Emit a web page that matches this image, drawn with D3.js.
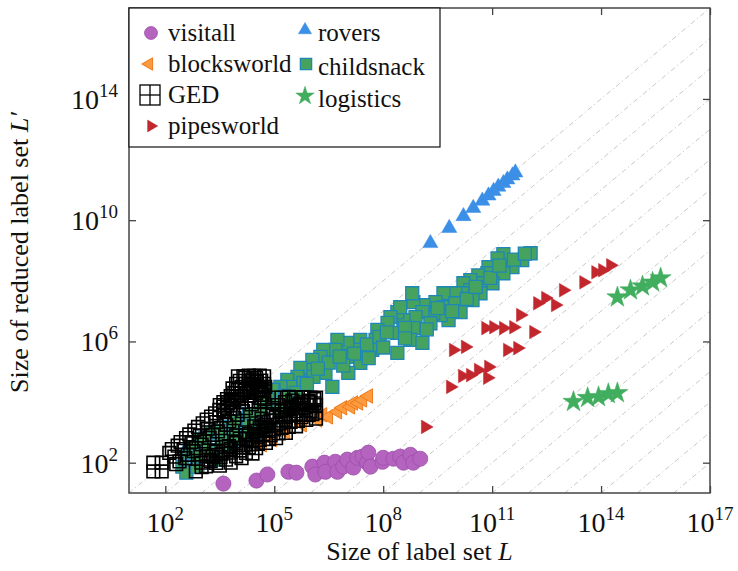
<!DOCTYPE html>
<html>
<head>
<meta charset="utf-8">
<script src="https://cdn.jsdelivr.net/npm/d3@7"></script>
<style>
  body { margin: 0; background: #fff; }
  svg text { font-family: "Liberation Serif", "Times New Roman", serif; fill: #111; }
</style>
</head>
<body>
<svg id="chart" width="738" height="571" font-family="Liberation Serif"></svg>
<script>
// all values are log10 of [size of L, size of L']
var visitall = [[3.60,1.31],[4.51,1.41],[4.81,1.61],[5.39,1.70],[5.61,1.67],[6.05,1.87],[6.13,1.61],[6.38,2.00],
  [6.41,1.70],[6.68,2.03],[6.74,1.70],[6.90,1.87],[7.01,2.10],[7.18,1.84],[7.29,2.16],[7.43,2.20],[7.56,2.00],
  [7.59,2.33],[7.65,1.87],[7.98,2.03],[8.00,2.16],[8.28,2.13],[8.47,2.20],[8.56,2.00],[8.75,2.26],[8.83,2.00],[9.02,2.13]];

var rovers = [[9.30,9.24],[9.82,9.74],[10.21,10.13],[10.48,10.40],[10.73,10.64],[10.90,10.81],[11.04,10.96],
  [11.17,11.10],[11.31,11.22],[11.42,11.34],[11.56,11.47],[11.64,11.57]];

var blocksworld = [[4.67,2.59],[4.95,2.76],[5.31,3.02],[5.77,3.25],[6.19,3.41],[6.33,3.58],[6.49,3.51],[6.74,3.68],
  [6.88,3.81],[7.10,3.84],[7.18,3.97],[7.32,3.97],[7.43,4.07],[7.59,4.20]];

var childsnack = [[12.06,8.91],[11.83,8.68],[11.31,8.88],[11.15,8.74],[11.56,8.45],[11.31,8.25],[10.90,8.45],[10.87,8.25],
  [10.62,8.18],[11.01,7.92],[10.68,7.92],[10.40,8.02],[10.21,7.92],[10.40,7.69],[10.68,7.59],[10.46,7.36],[10.18,7.59],
  [9.99,7.59],[9.66,7.59],[9.44,7.30],[9.66,7.13],[9.99,7.26],[10.13,6.97],[9.80,6.70],[9.58,6.87],[9.38,6.93],
  [9.11,7.20],[8.83,7.30],[8.80,7.59],[9.08,6.97],[8.89,6.80],[8.83,6.44],[8.56,6.70],[8.39,6.97],[8.47,7.13],
  [8.20,6.80],[8.12,6.61],[8.39,6.28],[8.75,6.05],[9.08,5.95],[8.39,5.62],[7.84,6.38],[7.79,6.05],[7.70,5.72],
  [7.37,6.05],[7.32,5.72],[7.37,5.29],[7.01,5.95],[7.01,5.49],[7.04,4.96],[6.74,6.05],[6.68,5.72],[6.35,5.72],
  [6.27,5.49],[6.41,4.96],[6.05,5.39],[5.99,5.06],[6.08,4.83],[6.60,4.50],[5.72,5.13],[5.64,4.83],[5.80,4.63],
  [5.36,4.73],[5.44,4.50],[5.17,4.50],[4.98,4.40],[4.95,4.40],[4.92,3.97],[4.64,3.74],[4.12,3.41],[3.76,3.18],
  [3.27,2.99],[2.94,2.76],[2.66,2.33],[2.47,1.87],[2.58,1.67],[2.88,1.87],[3.40,2.10],[3.76,2.53],[4.12,2.76],
  [4.45,2.99],[4.67,3.18],[5.17,3.74],[5.44,3.91],
  [7.55,5.90],[7.90,6.15],[8.10,6.30],[8.60,6.45],[9.30,6.60],[9.50,7.10],[8.00,5.80],[7.60,5.45],[7.20,5.60],
  [6.90,5.20],[6.50,5.30],[6.20,5.10],[6.80,5.50],[9.90,7.00],[10.30,7.40],[10.55,7.80],[10.95,8.10],[11.20,8.50],
  [11.60,8.70],[11.90,8.90],[9.20,6.40],[8.60,6.10],
  [5.60,4.30],[5.90,4.60],[5.30,4.20],[4.80,4.10],[4.30,3.60],[3.90,3.35],[3.50,3.05],[3.10,2.80],[2.75,2.50],
  [2.90,2.20],[3.20,2.40],[3.55,2.70],[3.90,2.90],[4.30,3.20]];

var ged = [[1.67,2.00],[1.90,2.00],[1.67,1.71],[1.90,1.71],
  [2.11,2.32],[2.34,2.56],[2.57,2.81],[2.80,3.06],[3.03,3.30],[3.26,3.52],[3.49,3.74],[3.72,3.96],[3.95,4.18],
  [4.18,4.38],[4.41,4.57],[4.64,4.71],
  [2.18,2.45],[2.42,2.68],[2.66,2.93],[2.90,3.18],[3.14,3.42],[3.37,3.63],[3.60,3.85],[3.84,4.07],[4.06,4.28],
  [4.30,4.48],[4.52,4.66],
  [2.39,2.04],[2.62,2.26],[2.84,2.48],[3.07,2.70],[3.30,2.92],[3.53,3.14],[3.76,3.36],[3.99,3.58],[4.22,3.80],
  [4.45,4.02],[4.68,4.24],
  [2.30,1.95],[2.55,2.15],[2.78,2.38],[3.00,2.60],[3.22,2.82],[3.45,3.03],[3.68,3.25],[3.90,3.47],[4.14,3.70],
  [4.38,3.92],[4.60,4.14],
  [2.25,2.20],[2.50,2.45],[2.72,2.68],[2.95,2.90],[3.18,3.12],[3.40,3.34],[3.63,3.56],[3.86,3.78],[4.10,4.00],
  [4.32,4.20],[4.55,4.42],[4.75,4.50],
  [4.00,4.85],[4.15,4.85],[4.30,4.87],[4.45,4.86],[4.60,4.87],[4.72,4.85],[4.72,4.60],[4.72,4.35],[4.72,4.10],
  [3.50,3.90],[3.60,4.00],[3.70,4.10],[3.80,4.20],[3.90,4.30],[4.00,4.40],[4.10,4.50],[4.20,4.60],[4.30,4.70],
  [4.40,4.75],[4.50,4.80],[3.60,3.70],[3.70,3.80],[3.80,3.90],[3.90,4.00],[4.00,4.10],[4.10,4.20],[4.20,4.30],
  [4.30,4.40],[4.40,4.50],[4.50,4.55],[4.60,4.40],[3.85,4.45],[3.95,4.60],[4.05,4.70],[4.20,4.80],[4.35,4.60],
  [4.50,4.30],[4.65,4.50],[4.62,4.00],
  [3.12,2.21],[3.40,2.37],[3.67,2.52],[3.95,2.65],[4.22,2.78],[4.50,2.92],[4.77,3.09],[5.05,3.25],[5.32,3.41],
  [5.60,3.58],[5.88,3.74],[6.10,3.96],
  [2.84,1.71],[3.12,1.88],[3.40,1.99],[3.67,2.10],[3.95,2.21],[4.22,2.32],[4.50,2.48],[4.77,2.65],[5.05,2.81],
  [5.32,2.98],[5.60,3.20],[5.88,3.41],
  [3.00,2.00],[3.30,2.20],[3.55,2.30],[3.80,2.45],[4.10,2.50],[4.35,2.60],[4.60,2.75],[4.90,2.90],[5.20,3.15],
  [5.45,3.35],[5.75,3.50],[6.00,3.70],
  [3.25,2.05],[3.52,2.18],[3.80,2.33],[4.05,2.40],[4.30,2.50],[4.55,2.62],[4.85,2.78],[5.12,2.97],[5.40,3.18],
  [5.65,3.38],[5.95,3.58],
  [3.95,2.90],[4.20,3.00],[4.45,3.20],[4.70,3.35],[4.95,3.55],[5.20,3.70],[5.45,3.85],[5.70,3.95],[5.95,4.00],
  [4.30,2.95],[4.45,3.05],[4.60,3.15],[4.75,3.25],[4.90,3.40],[5.05,3.50],[5.20,3.60],[5.35,3.75],[5.50,3.80],
  [5.65,3.90],[5.80,4.00],[5.95,4.05],[6.10,4.10],
  [4.40,2.70],[4.55,2.85],[4.70,2.95],[4.85,3.05],[5.00,3.10],[5.15,3.30],[5.30,3.50],[5.45,3.55],[5.60,3.70],
  [5.75,3.80],[5.90,3.90],[6.05,3.60],[5.50,4.05],[5.30,4.00],[5.10,3.90],[4.95,3.80],[4.80,3.60],[4.65,3.45],
  [4.50,3.30],[3.60,2.40],[3.75,2.55],[3.90,2.70],[4.05,2.80],[4.20,2.90],[3.40,2.25],[3.20,2.10],[3.00,1.85],
  [3.50,1.90],[3.80,2.00],[4.10,2.15],[4.40,2.30],
  [5.00,4.15],[5.20,4.15],[5.40,4.17],[5.60,4.15],[5.80,4.16],[6.00,4.15],[6.15,4.15],[6.15,3.90],[6.15,3.65],[6.15,3.45]];

var logistics = [[14.45,7.46],[14.81,7.69],[15.14,7.82],[15.42,7.95],[15.64,8.09],
  [13.24,4.01],[13.63,4.14],[13.93,4.17],[14.20,4.27],[14.45,4.30]];

var pipesworld = [[9.16,3.18],[9.85,4.50],[10.18,4.86],[10.40,4.89],[10.62,5.06],[10.90,5.16],[10.87,4.80],
  [9.93,5.72],[10.26,5.82],[11.42,5.72],[11.70,5.78],[10.82,6.44],[11.04,6.47],[11.31,6.44],[11.59,6.47],
  [12.14,6.31],[11.78,6.87],[12.25,7.26],[12.47,7.43],[12.74,7.20],[12.96,7.69],[13.52,7.95],[13.85,8.28],
  [14.04,8.35],[14.26,8.51]];

var xTicks = [2, 5, 8, 11, 14, 17];
var yTicks = [2, 6, 10, 14];
var diagOffsets = [0, 1, 2, 3, 4, 5, 6, 7, 8, 9, 10, 11, 12, 13, 14, 15]; // decades below L' = L

var margin = { top: 8, right: 28, bottom: 78, left: 129 },
    width = 738 - margin.left - margin.right,
    height = 571 - margin.top - margin.bottom;

var svg = d3.select("#chart")
  .append("g")
  .attr("transform", "translate(" + margin.left + "," + margin.top + ")");

var x = d3.scaleLog().domain([1e1, 1e17]).range([0, width]);
var y = d3.scaleLog().domain([1e1, 1e17]).range([height, 0]);
var p = function(e) { return Math.pow(10, e); };

svg.append("clipPath").attr("id", "plotclip")
  .append("rect").attr("width", width).attr("height", height);

// reference lines L' = L / 10^k
svg.append("g").attr("clip-path", "url(#plotclip)")
  .selectAll("line")
  .data(diagOffsets)
  .enter()
  .append("line")
  .attr("x1", function(k) { return x(p(1 + k)); })
  .attr("y1", y(p(1)))
  .attr("x2", x(p(17)))
  .attr("y2", function(k) { return y(p(17 - k)); })
  .attr("stroke", "#c8c8c8")
  .attr("stroke-width", 1)
  .attr("stroke-dasharray", "5,3,1.2,3");

var series = [
  { name: "visitall", data: visitall, type: d3.symbolCircle, size: 180, rot: 0, fill: "#b463bf", stroke: "#9c4fa9", sw: 0.8 },
  { name: "rovers", data: rovers, type: d3.symbolTriangle, size: 100, rot: 0, fill: "#3b8fe6", stroke: "#3b8fe6", sw: 0.5 },
  { name: "blocksworld", data: blocksworld, type: d3.symbolTriangle, size: 90, rot: -90, fill: "#fd9b40", stroke: "#f07a1a", sw: 1 },
  { name: "childsnack", data: childsnack, type: d3.symbolSquare, size: 169, rot: 0, fill: "#45a35f", stroke: "#1f86b8", sw: 1.3 },
  { name: "GED", data: ged, type: d3.symbolSquare, size: 160, rot: 0, fill: "none", stroke: "#000", sw: 1.6 },
  { name: "logistics", data: logistics, type: d3.symbolStar, size: 140, rot: 0, fill: "#41ad5e", stroke: "#41ad5e", sw: 0.5 },
  { name: "pipesworld", data: pipesworld, type: d3.symbolTriangle, size: 80, rot: 90, fill: "#c1272d", stroke: "#c1272d", sw: 0.5 }
];

series.forEach(function(s) {
  svg.append("g")
    .selectAll("path")
    .data(s.data)
    .enter()
    .append("path")
    .attr("d", d3.symbol().type(s.type).size(s.size))
    .attr("transform", function(d) {
      return "translate(" + x(p(d[0])) + "," + y(p(d[1])) + ") rotate(" + s.rot + ")";
    })
    .attr("fill", s.fill)
    .attr("stroke", s.stroke)
    .attr("stroke-width", s.sw);
});

// axes: ticks inward on all four sides
var frameColor = "#444";
function styleAxis(g) {
  g.select(".domain").remove();
  g.selectAll(".tick line").attr("stroke", frameColor).attr("stroke-width", 1.3);
}
svg.append("g").attr("transform", "translate(0," + height + ")")
  .call(d3.axisBottom(x).tickValues(xTicks.map(p)).tickSize(-7).tickFormat("")).call(styleAxis);
svg.append("g")
  .call(d3.axisTop(x).tickValues(xTicks.map(p)).tickSize(-7).tickFormat("")).call(styleAxis);
svg.append("g")
  .call(d3.axisLeft(y).tickValues(yTicks.map(p)).tickSize(-7).tickFormat("")).call(styleAxis);
svg.append("g").attr("transform", "translate(" + width + ",0)")
  .call(d3.axisRight(y).tickValues(yTicks.map(p)).tickSize(-7).tickFormat("")).call(styleAxis);

svg.append("rect")
  .attr("width", width).attr("height", height)
  .attr("fill", "none").attr("stroke", frameColor).attr("stroke-width", 1.5);

// tick labels 10^n
var xl = svg.append("g").selectAll("text")
  .data(xTicks).enter().append("text")
  .attr("x", function(d) { return x(p(d)); })
  .attr("y", height + 39)
  .attr("text-anchor", "middle")
  .attr("font-size", 28);
xl.append("tspan").text("10");
xl.append("tspan").attr("dy", -12).attr("font-size", 19).text(function(d) { return d; });

var yl = svg.append("g").selectAll("text")
  .data(yTicks).enter().append("text")
  .attr("x", -11)
  .attr("y", function(d) { return y(p(d)) + 10; })
  .attr("text-anchor", "end")
  .attr("font-size", 28);
yl.append("tspan").text("10");
yl.append("tspan").attr("dy", -12).attr("font-size", 19).text(function(d) { return d; });

// axis titles
var xt = svg.append("text")
  .attr("x", width / 2).attr("y", height + 67)
  .attr("text-anchor", "middle").attr("font-size", 26);
xt.append("tspan").text("Size of label set ");
xt.append("tspan").attr("font-style", "italic").text("L");

var yt = svg.append("text")
  .attr("transform", "translate(-101," + (height / 2 + 2) + ") rotate(-90)")
  .attr("text-anchor", "middle").attr("font-size", 26);
yt.append("tspan").text("Size of reduced label set ");
yt.append("tspan").attr("font-style", "italic").text("L\u2032");

// legend
var legend = svg.append("g");
legend.append("rect")
  .attr("x", 0).attr("y", 0).attr("width", 311).attr("height", 139)
  .attr("fill", "#fff").attr("stroke", "#111").attr("stroke-width", 1.2);

var legendPos = {
  visitall: [22, 25, 0], rovers: [176, 22, 1], blocksworld: [20, 56, 0], childsnack: [177, 56, 1],
  GED: [21, 87, 0], logistics: [176, 88, 1], pipesworld: [22, 118, 0]
};
series.forEach(function(s) {
  var pos = legendPos[s.name];
  if (s.name === "GED") {
    legend.append("rect").attr("x", pos[0] - 10).attr("y", pos[1] - 10).attr("width", 20).attr("height", 20)
      .attr("fill", "none").attr("stroke", "#000").attr("stroke-width", 1.3);
    legend.append("line").attr("x1", pos[0]).attr("x2", pos[0]).attr("y1", pos[1] - 10).attr("y2", pos[1] + 10)
      .attr("stroke", "#000").attr("stroke-width", 1.3);
    legend.append("line").attr("x1", pos[0] - 10).attr("x2", pos[0] + 10).attr("y1", pos[1]).attr("y2", pos[1])
      .attr("stroke", "#000").attr("stroke-width", 1.3);
  } else {
    legend.append("path")
      .attr("d", d3.symbol().type(s.type).size(s.name === "visitall" ? 130 : s.size * 0.75))
      .attr("transform", "translate(" + pos[0] + "," + pos[1] + ") rotate(" + s.rot + ")")
      .attr("fill", s.fill).attr("stroke", s.stroke).attr("stroke-width", s.sw);
  }
  legend.append("text")
    .attr("x", pos[2] ? 189 : 39)
    .attr("y", (pos[2] ? pos[1] + 3 : pos[1]) + 8)
    .attr("font-size", 25)
    .text(s.name);
});
</script>
</body>
</html>
